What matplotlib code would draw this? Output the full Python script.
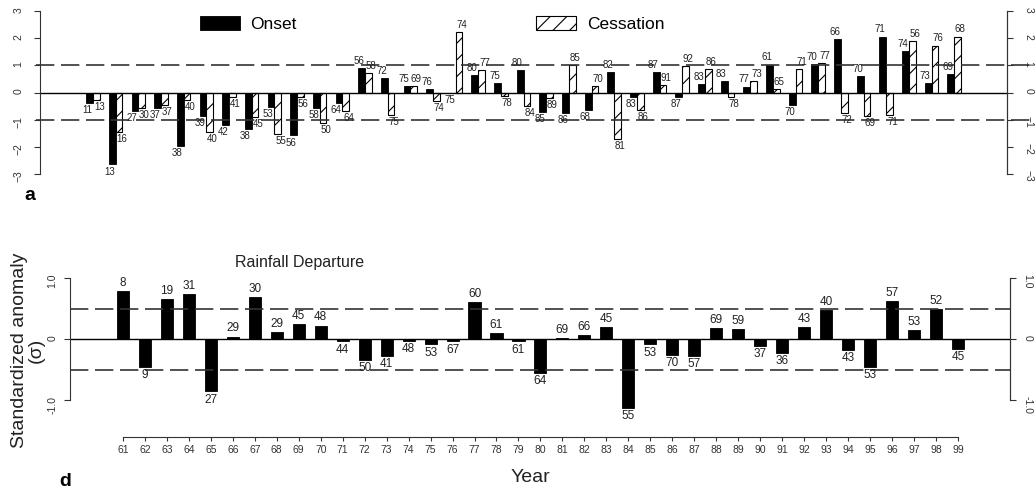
import numpy as np
import matplotlib.pyplot as plt

plt.rcParams['font.family'] = ['Liberation Sans', 'DejaVu Sans']
plt.rcParams['hatch.linewidth'] = 0.8

# years 1961-1999 (shown as 61..99)
years = np.arange(61, 100)

# panel a: standardized onset / cessation dates, with station counts on top
onset = [-0.39, -2.65, -0.69, -0.57, -1.96, -0.87, -1.20, -1.33, -0.53, -1.58,
         -0.57, -0.39, 0.91, 0.52, 0.24, 0.12, -0.03, 0.64, 0.34, 0.82,
         -0.73, -0.75, -0.63, 0.76, -0.15, 0.74, -0.15, 0.32, 0.42, 0.22,
         1.03, -0.45, 1.04, 1.98, 0.61, 2.06, 1.52, 0.36, 0.68]
onset_n = [11, 13, 27, 37, 38, 39, 42, 38, 53, 56,
           58, 64, 56, 72, 75, 76, 75, 80, 75, 80,
           85, 86, 68, 82, 83, 87, 87, 83, 83, 77,
           61, 70, 70, 66, 70, 71, 74, 73, 69]
cess = [-0.27, -1.44, -0.57, -0.45, -0.27, -1.44, -0.15, -0.90, -1.54, -0.15,
        -1.12, -0.69, 0.70, -0.81, 0.25, -0.30, 2.22, 0.82, -0.12, -0.48,
        -0.20, 1.00, 0.24, -1.72, -0.63, 0.28, 0.98, 0.85, -0.15, 0.42,
        0.12, 0.88, 1.10, -0.75, -0.87, -0.84, 1.89, 1.73, 2.06]
cess_n = [13, 16, 30, 37, 40, 40, 41, 45, 55, 56,
          50, 64, 58, 75, 69, 74, 74, 77, 78, 84,
          89, 85, 70, 81, 86, 91, 92, 86, 78, 73,
          65, 71, 77, 72, 69, 71, 56, 76, 68]

# panel d: rainfall departure
rain = [0.78, -0.46, 0.66, 0.74, -0.86, 0.04, 0.69, 0.12, 0.24, 0.22,
        -0.04, -0.34, -0.28, -0.03, -0.09, -0.04, 0.60, 0.10, -0.04, -0.56,
        0.01, 0.07, 0.20, -1.13, -0.09, -0.26, -0.28, 0.18, 0.16, -0.11,
        -0.23, 0.19, 0.47, -0.18, -0.46, 0.62, 0.15, 0.49, -0.16]
rain_n = [8, 9, 19, 31, 27, 29, 30, 29, 45, 48,
          44, 50, 41, 48, 53, 67, 60, 61, 61, 64,
          69, 66, 45, 55, 53, 70, 57, 69, 59, 37,
          36, 43, 40, 43, 53, 57, 53, 52, 45]

W, H = 1036, 492
fig = plt.figure(figsize=(W / 100, H / 100), dpi=100)


def px_rect(x0, x1, ytop, ybot):
    return [x0 / W, 1 - ybot / H, (x1 - x0) / W, (ybot - ytop) / H]


def put_labels(ax, xs, vals, labels, size, dx=0.0):
    for x, v, n in zip(xs, vals, labels):
        up = v >= 0
        ax.annotate(str(n), (x, v), xytext=(dx, 1.5 if up else -1.5),
                    textcoords='offset points', ha='center',
                    va='bottom' if up else 'top', fontsize=size, color='#222222')


dash = (0, (11, 4))
axis_col = '#333333'

# ---------------- panel a ----------------
axa = fig.add_axes(px_rect(40, 1007, 11, 174))
w = 0.3
b1 = axa.bar(years - w / 2, onset, w, color='black', edgecolor='black', lw=0.6, label='Onset')
b2 = axa.bar(years + w / 2, cess, w, color='white', edgecolor='black', lw=0.8,
             hatch='//', label='Cessation')
axa.set_xlim(58.66, 101.33)
axa.set_ylim(-3, 3)
axa.axhline(0, color='black', lw=1.0)
for yv in (1, -1):
    axa.plot([-0.004, 1.024], [yv, yv], transform=axa.get_yaxis_transform(),
             color=axis_col, lw=1.2, ls=dash, clip_on=False)
put_labels(axa, years - w / 2, onset, onset_n, 7, dx=-2)
put_labels(axa, years + w / 2, cess, cess_n, 7, dx=2)

for s in ('top', 'bottom'):
    axa.spines[s].set_visible(False)
axa.spines['left'].set_color(axis_col)
axa.spines['right'].set_color(axis_col)
axa.set_xticks([])
axa.set_yticks([3, 2, 1, 0, -1, -2, -3])
axa.tick_params(axis='y', direction='out', length=4, labelsize=7.5, colors=axis_col,
                right=True, labelright=False, labelrotation=90, pad=8)
axa_r = axa.twinx()
axa_r.set_ylim(-3, 3)
axa_r.set_yticks([3, 2, 1, 0, -1, -2, -3])
axa_r.tick_params(axis='y', direction='out', length=4, labelsize=7.5, colors=axis_col,
                  labelrotation=-90, pad=8)
for s in ('top', 'bottom', 'left'):
    axa_r.spines[s].set_visible(False)
axa_r.spines['right'].set_color(axis_col)

fig.legend(handles=[b1, b2], loc='center left', bbox_to_anchor=(200 / W, 1 - 24 / H),
           ncol=2, frameon=False, fontsize=12.5, handlelength=2.3, handleheight=0.9,
           handletextpad=0.6, columnspacing=13.8, borderpad=0, borderaxespad=0)
fig.text(30 / W, 1 - 196 / H, 'a', fontsize=14, fontweight='bold', ha='center', va='center')

# ---------------- panel d ----------------
zero_px, unit_px = 339, 61
ylo, yhi = -1.4, 1.1
axd = fig.add_axes(px_rect(70, 1010, zero_px - yhi * unit_px, zero_px - ylo * unit_px))
axd.bar(years, rain, 0.55, color='black', edgecolor='black', lw=0.6)
axd.set_xlim(58.59, 101.37)
axd.set_ylim(ylo, yhi)
axd.axhline(0, color='black', lw=1.0)
for yv in (0.5, -0.5):
    axd.axhline(yv, color=axis_col, lw=1.2, ls=dash)
put_labels(axd, years, rain, rain_n, 8.5)
fig.text(300 / W, 1 - 262 / H, 'Rainfall Departure', fontsize=11.5, ha='center', va='center',
         color='#222222')

axd.spines['top'].set_visible(False)
for s in ('left', 'right'):
    axd.spines[s].set_bounds(-1, 1)
    axd.spines[s].set_color(axis_col)
axd.spines['bottom'].set_position(('outward', (437 - (zero_px - ylo * unit_px)) * 0.72))
axd.spines['bottom'].set_bounds(61, 99)
axd.spines['bottom'].set_color(axis_col)
axd.set_xticks(years)
axd.set_xticklabels([str(y) for y in years])
axd.tick_params(axis='x', direction='out', length=3, labelsize=7.5, colors=axis_col, pad=3)
axd.set_yticks([1, 0, -1])
axd.set_yticklabels(['1.0', '0', '-1.0'])
axd.tick_params(axis='y', direction='out', length=4, labelsize=7.5, colors=axis_col,
                labelrotation=90, pad=5)
axd_r = axd.twinx()
axd_r.set_ylim(ylo, yhi)
axd_r.set_yticks([1, 0, -1])
axd_r.set_yticklabels(['1.0', '0', '-1.0'])
axd_r.tick_params(axis='y', direction='out', length=4, labelsize=7.5, colors=axis_col,
                  labelrotation=-90, pad=5)
for s in ('top', 'bottom', 'left'):
    axd_r.spines[s].set_visible(False)
axd_r.spines['right'].set_bounds(-1, 1)
axd_r.spines['right'].set_color(axis_col)

fig.text(530 / W, 1 - 478 / H, 'Year', fontsize=14, ha='center', va='center', color='#222222')
fig.text(28 / W, 1 - 350 / H, 'Standardized anomaly\n(\u03c3)', fontsize=14, rotation=90,
         ha='center', va='center', multialignment='center', linespacing=1.0, color='#222222')
fig.text(65 / W, 1 - 481 / H, 'd', fontsize=14, fontweight='bold', ha='center', va='center')

fig.savefig('out.png', dpi=100)
